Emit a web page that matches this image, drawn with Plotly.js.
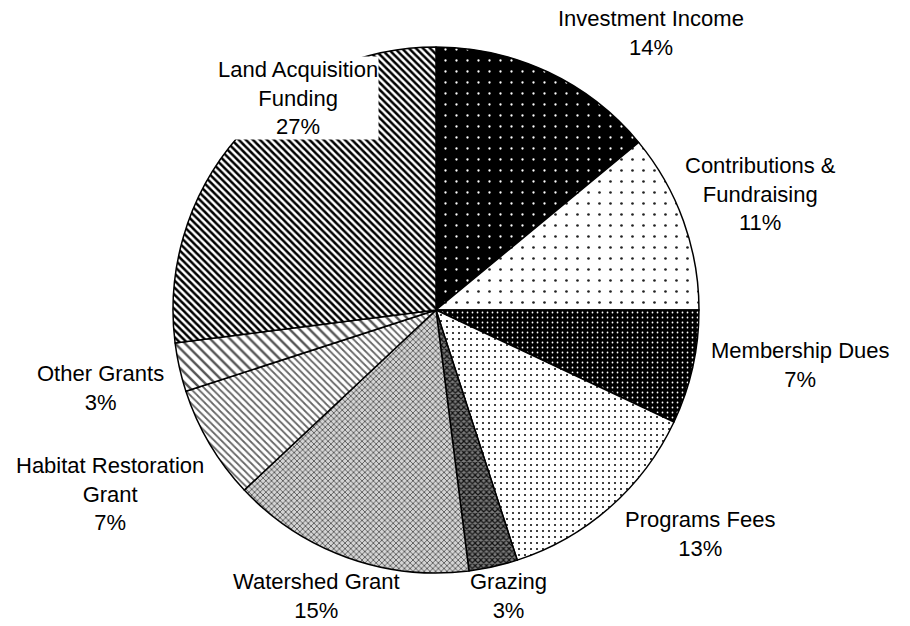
<!DOCTYPE html>
<html>
<head>
<meta charset="utf-8">
<script src="https://cdn.plot.ly/plotly-3.0.1.min.js"></script>
<style>html,body{margin:0;padding:0;background:#fff;}#chart{width:910px;height:626px;}</style>
</head>
<body>
<div id="chart"></div>
<script>
// ---- data ----
const categories = ["Investment Income", "Contributions & Fundraising", "Membership Dues", "Programs Fees", "Grazing", "Watershed Grant", "Habitat Restoration Grant", "Other Grants", "Land Acquisition Funding"];
const displayLabels = ["Investment Income", "Contributions &<br>Fundraising", "Membership Dues", "Programs Fees", "Grazing", "Watershed Grant", "Habitat Restoration<br>Grant", "Other Grants", "Land Acquisition<br>Funding"];
const values = [14, 11, 7, 13, 3, 15, 7, 3, 27];

// ---- styles ----
const patShape = [".", ".", ".", ".", "x", "x", "\\", "\\", "\\"];
const patFg = ["#ffffff", "#222222", "#ffffff", "#111111", "#111111", "#444444", "#666666", "#555555", "#000000"];
const patBg = ["#000000", "#ffffff", "#000000", "#ffffff", "#7a7a7a", "#d4d4d4", "#ffffff", "#ffffff", "#ffffff"];
const patSize = [11, 11, 5, 6, 4, 4, 5, 7, 5];
const patSolid = [0.035, 0.045, 0.1, 0.1, 0.5, 0.35, 0.35, 0.35, 0.5];

// label block centres in pixels (layout only)
const labelPx = [[651, 33], [760, 194], [800, 365], [700, 534], [508, 596], [316, 596], [110, 494], [100, 388], [298, 98]];
const labelBg = ["rgba(0,0,0,0)", "rgba(0,0,0,0)", "rgba(0,0,0,0)", "rgba(0,0,0,0)", "rgba(0,0,0,0)", "rgba(0,0,0,0)", "rgba(0,0,0,0)", "rgba(0,0,0,0)", "#ffffff"];

const W = 910, H = 626, cx = 436, cy = 310, R = 263;
const FONT = "Liberation Sans, Arial, sans-serif";

const total = values.reduce((a, b) => a + b, 0);
const pct = values.map(v => Math.round(v / total * 100) + "%");

const pieTrace = {
  type: "pie",
  labels: categories,
  values: values,
  sort: false,
  direction: "clockwise",
  rotation: 0,
  textinfo: "none",
  hoverinfo: "label+percent",
  domain: {
    x: [(cx - R) / W, (cx + R) / W],
    y: [(H - cy - R) / H, (H - cy + R) / H]
  },
  marker: {
    colors: patBg,
    line: {color: "#000000", width: 1.5},
    pattern: {shape: patShape, fgcolor: patFg, bgcolor: patBg, size: patSize, solidity: patSolid, fillmode: "replace"}
  },
  showlegend: false
};

const annotations = displayLabels.map((lab, i) => ({
  xref: "paper", yref: "paper",
  x: labelPx[i][0] / W, y: 1 - labelPx[i][1] / H,
  xanchor: "center", yanchor: "middle",
  text: lab + "<br>" + pct[i],
  showarrow: false,
  align: "center",
  bgcolor: labelBg[i],
  borderpad: 0,
  font: {family: FONT, size: 22, color: "#000000"}
}));

const layout = {
  width: W, height: H,
  margin: {l: 0, r: 0, t: 0, b: 0},
  paper_bgcolor: "#ffffff",
  plot_bgcolor: "#ffffff",
  font: {family: FONT, size: 22, color: "#000000"},
  showlegend: false,
  annotations: annotations
};

Plotly.newPlot("chart", [pieTrace], layout, {displayModeBar: false, staticPlot: true});
</script>
</body>
</html>
